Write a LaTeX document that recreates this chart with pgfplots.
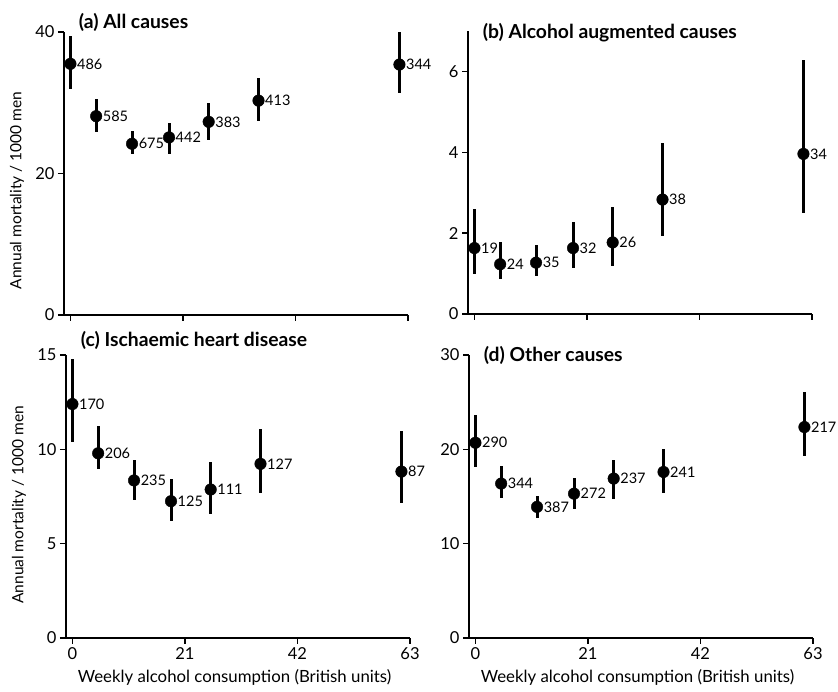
\documentclass[border=0pt]{standalone}
\usepackage{pgfplots}
\pgfplotsset{compat=1.18}
\usepackage{pgfplotstable}
\usepackage{fontspec}
\setmainfont{Lato}

\pgfplotstableread{
x y ep em label
0 35.5 3.9 3.5 486
4.8 28.1 2.4 2.2 585
11.5 24.2 1.8 1.5 675
18.4 25.1 2.1 2.3 442
25.8 27.3 2.7 2.6 383
35.1 30.3 3.2 2.9 413
61.4 35.4 4.6 4.0 344
}\dataA
\pgfplotstableread{
x y ep em label
0 1.63 0.97 0.63 19
4.8 1.23 0.54 0.355 24
11.5 1.27 0.44 0.32 35
18.4 1.63 0.65 0.49 32
25.8 1.77 0.87 0.58 26
35.1 2.83 1.40 0.90 38
61.4 3.96 2.33 1.46 34
}\dataB
\pgfplotstableread{
x y ep em label
0 12.4 2.39 2.02 170
4.8 9.79 1.47 0.83 206
11.5 8.35 1.06 1.01 235
18.4 7.25 1.18 1.06 125
25.8 7.87 1.45 1.32 111
35.1 9.23 1.85 1.54 127
61.4 8.82 2.17 1.67 87
}\dataC
\pgfplotstableread{
x y ep em label
0 20.7 2.96 2.57 290
4.8 16.37 1.83 1.58 344
11.5 13.9 1.17 1.22 387
18.4 15.3 1.67 1.67 272
25.8 16.9 2.0 2.18 237
35.1 17.6 2.4 2.18 241
61.4 22.36 3.7 3.1 217
}\dataD

\pgfplotsset{
  panel/.style={
    scale only axis, width=344pt, height=283pt,
    anchor=south west,
    axis x line*=bottom, axis y line*=left,
    axis line style={line width=1.6pt, -},
    xmin=-1.2, xmax=63, ymin=0,
    xtick={0,21,42,63},
    tick align=outside, major tick length=6pt,
    every tick/.style={black, line width=1.4pt},
    tick label style={font=\fontsize{16.5}{19}\selectfont},
    clip=false,
    /pgf/number format/assume math mode=true,
  },
  ylab/.style={
    ylabel={Annual mortality / 1000 men},
    ylabel style={at={(rel axis cs:-0.137,#1)}, anchor=center, rotate=0,
      font=\fontsize{15.5}{18}\selectfont},
  },
  xlab/.style={
    xlabel={Weekly alcohol consumption (British units)},
    xlabel style={at={(rel axis cs:0.49,-0.138)}, anchor=center,
      font=\fontsize{16.8}{19}\selectfont},
  },
  pts/.style={only marks, mark=*, mark size=5.8pt, black,
    point meta=explicit symbolic,
    nodes near coords,
    nodes near coords style={anchor=west, xshift=6.5pt, inner sep=0pt,
      font=\fontsize{14.5}{17}\selectfont},
    error bars/.cd, y dir=both, y explicit, error mark=none,
    error bar style={line width=3pt, black}},
}
\newcommand{\ttl}{\bfseries\fontsize{19.3}{22}\selectfont}

\begin{document}
\begin{tikzpicture}[x=1pt,y=1pt]
\path (0,0) rectangle (838,692);

\begin{axis}[panel, at={(64pt,377pt)}, ymax=40, ytick={0,20,40},
  xticklabels={}, ylab=0.44]
\addplot[pts] table[x=x, y=y, y error plus=ep, y error minus=em, meta=label] {\dataA};
\node[anchor=west, font=\ttl] at (rel axis cs:0.033,1.035) {(a) All causes};
\end{axis}

\begin{axis}[panel, at={(468pt,378pt)}, ymax=7, ytick={0,2,4,6},
  xticklabels={}]
\addplot[pts] table[x=x, y=y, y error plus=ep, y error minus=em, meta=label] {\dataB};
\node[anchor=west, font=\ttl] at (rel axis cs:0.033,0.995) {(b) Alcohol augmented causes};
\end{axis}

\begin{axis}[panel, at={(66pt,54pt)}, ymax=15, ytick={0,5,10,15},
  ylab=0.47, xlab]
\addplot[pts] table[x=x, y=y, y error plus=ep, y error minus=em, meta=label] {\dataC};
\node[anchor=west, font=\ttl] at (rel axis cs:0.033,1.05) {(c) Ischaemic heart disease};
\end{axis}

\begin{axis}[panel, at={(469pt,54pt)}, ymax=30, ytick={0,10,20,30},
  xlab]
\addplot[pts] table[x=x, y=y, y error plus=ep, y error minus=em, meta=label] {\dataD};
\node[anchor=west, font=\ttl] at (rel axis cs:0.033,1.0) {(d) Other causes};
\end{axis}
\end{tikzpicture}
\end{document}
